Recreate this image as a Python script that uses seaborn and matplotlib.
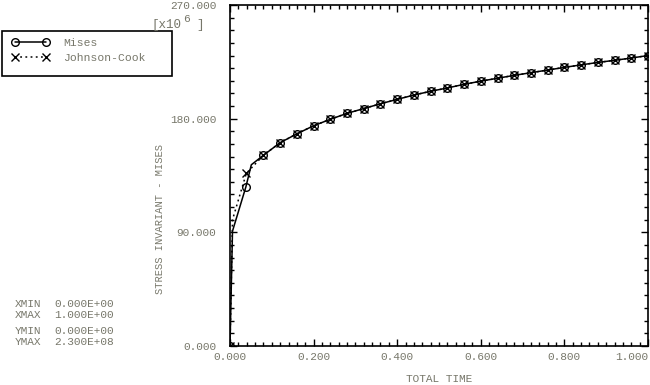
import matplotlib
matplotlib.use("Agg")
import matplotlib.pyplot as plt
import seaborn as sns
from matplotlib.patches import Rectangle
from matplotlib.ticker import MultipleLocator, FormatStrFormatter

# data (stress in units of 1e6)
tail_time = [0.08, 0.12, 0.16, 0.20, 0.24, 0.28, 0.32, 0.36, 0.40, 0.44, 0.48, 0.52,
             0.56, 0.60, 0.64, 0.68, 0.72, 0.76, 0.80, 0.84, 0.88, 0.92, 0.96, 1.00]
tail_stress = [151.0, 161.0, 168.0, 174.4, 179.5, 184.2, 188.0, 191.8, 195.3, 198.7, 201.7, 204.3,
               207.2, 209.7, 212.0, 214.3, 216.4, 218.5, 220.6, 222.6, 224.5, 226.2, 228.0, 230.0]

mises_time = [0.0, 0.006, 0.038, 0.051] + tail_time
mises_stress = [0.0, 91.0, 126.0, 143.5] + tail_stress
mises_marks = [0, 2] + list(range(4, len(mises_time)))

jc_time = [0.0, 0.006, 0.039] + tail_time
jc_stress = [0.0, 100.0, 136.7] + tail_stress
jc_marks = [0] + list(range(2, len(jc_time)))

info_names = ["XMIN", "XMAX", "YMIN", "YMAX"]
info_values = ["0.000E+00", "1.000E+00", "0.000E+00", "2.300E+08"]

sns.set_style("ticks")
plt.rcParams["font.family"] = ["Liberation Mono", "DejaVu Sans Mono"]
grey = "#77776a"

fig = plt.figure(figsize=(6.5, 3.85), dpi=100)
ax = fig.add_axes([230 / 650, 39 / 385, 418 / 650, 341 / 385])

sns.lineplot(x=mises_time, y=mises_stress, ax=ax, sort=False, estimator=None,
             color="black", lw=1.1, marker="o", markevery=mises_marks, ms=5.5,
             mfc="none", mec="black", mew=1.0, label="Mises")
sns.lineplot(x=jc_time, y=jc_stress, ax=ax, sort=False, estimator=None,
             color="black", lw=1.1, ls=(0, (1.2, 2.2)), marker="x", markevery=jc_marks,
             ms=5.5, mec="black", mew=1.0, label="Johnson-Cook")

ax.set_xlim(0, 1.0)
ax.set_ylim(0, 270)
ax.xaxis.set_major_locator(MultipleLocator(0.2))
ax.xaxis.set_minor_locator(MultipleLocator(0.02))
ax.yaxis.set_major_locator(MultipleLocator(90))
ax.yaxis.set_minor_locator(MultipleLocator(10))
ax.xaxis.set_major_formatter(FormatStrFormatter("%.3f"))
ax.yaxis.set_major_formatter(FormatStrFormatter("%.3f"))
ax.tick_params(which="both", direction="in", top=True, right=True, colors="black",
               labelcolor=grey, labelsize=8, width=1.0)
ax.tick_params(which="major", length=5, pad=10)
ax.tick_params(which="minor", length=3)
ax.tick_params(axis="x", which="major", pad=4)
for s in ax.spines.values():
    s.set_linewidth(1.2)
    s.set_color("black")

ax.set_xlabel("TOTAL TIME", color=grey, fontsize=8, labelpad=9)
ax.set_ylabel("")
fig.text(160 / 650, 1 - 219 / 385, "STRESS INVARIANT - MISES", rotation=90, color=grey,
         fontsize=7.5, ha="center", va="center")

# keep the last x tick label inside the figure
fig.canvas.draw()
for tick in ax.xaxis.get_major_ticks():
    if abs(tick.get_loc() - 1.0) < 1e-6:
        tick.label1.set_horizontalalignment("right")
        tick.label1.set_x(1.0)

# exponent label
fig.text(152 / 650, 1 - 25 / 385, "[x10", color=grey, fontsize=9, va="center")
fig.text(183 / 650, 1 - 19 / 385, "6", color=grey, fontsize=8, va="center")
fig.text(196 / 650, 1 - 25 / 385, "]", color=grey, fontsize=9, va="center")

# legend box
fig.patches.append(Rectangle((2 / 650, 1 - 76 / 385), 170 / 650, 45 / 385,
                             transform=fig.transFigure, fill=False, ec="black", lw=1.2))
leg = ax.legend(loc="upper left", bbox_to_anchor=(12 / 650, 1 - 38 / 385),
                bbox_transform=fig.transFigure, frameon=False, numpoints=2,
                fontsize=8.2, handlelength=3.3, borderaxespad=0, borderpad=0,
                labelcolor=grey, labelspacing=0.4, handletextpad=1.2)
for line in leg.get_lines():
    line.set_markevery(None)

ys = [304, 315, 331, 342]
for name, val, y in zip(info_names, info_values, ys):
    fig.text(15 / 650, 1 - y / 385, name, color=grey, fontsize=8, va="center")
    fig.text(54 / 650, 1 - y / 385, val, color=grey, fontsize=8, va="center")

fig.savefig("out.png", dpi=100)
